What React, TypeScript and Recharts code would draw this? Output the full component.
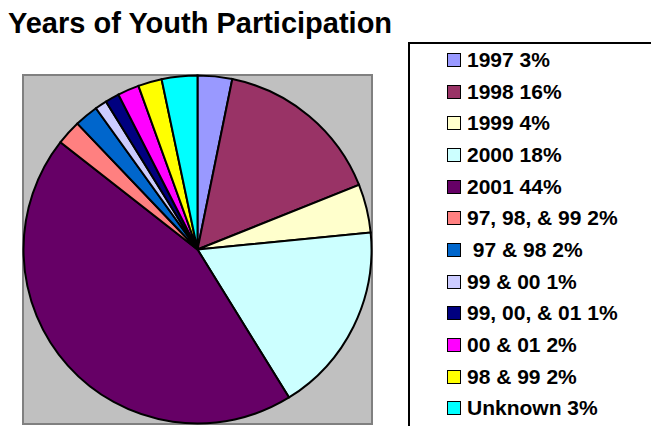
import { PieChart, Pie, Cell, Legend } from "recharts";

const labels = [
  "1997 3%",
  "1998 16%",
  "1999 4%",
  "2000 18%",
  "2001 44%",
  "97, 98, & 99 2%",
  " 97 & 98 2%",
  "99 & 00 1%",
  "99, 00, & 01 1%",
  "00 & 01 2%",
  "98 & 99 2%",
  "Unknown 3%",
];

const shares = [3.2, 15.7, 4.5, 17.7, 44.3, 2.3, 2.2, 1.1, 1.3, 2.0, 2.2, 3.3];

const colors = [
  "#9999FF",
  "#993366",
  "#FFFFCC",
  "#CCFFFF",
  "#660066",
  "#FF8080",
  "#0066CC",
  "#CCCCFF",
  "#000080",
  "#FF00FF",
  "#FFFF00",
  "#00FFFF",
];

const data = labels.map((label, i) => ({ label, value: shares[i] }));

const font = "'Liberation Sans', Arial, sans-serif";

function LegendBox() {
  return (
    <div
      style={{
        width: 260,
        height: 400,
        border: "2px solid #000",
        boxSizing: "border-box",
        background: "#fff",
        paddingTop: 0,
      }}
    >
      {labels.map((label, i) => (
        <div
          key={i}
          style={{
            display: "flex",
            alignItems: "center",
            height: 31.7,
            paddingLeft: 37,
          }}
        >
          <span
            style={{
              width: 14,
              height: 14,
              background: colors[i],
              border: "1.5px solid #000",
              boxSizing: "border-box",
              marginRight: 6,
              flexShrink: 0,
            }}
          />
          <span
            style={{
              fontFamily: font,
              fontWeight: 700,
              fontSize: 21,
              color: "#000",
              whiteSpace: "pre",
            }}
          >
            {label}
          </span>
        </div>
      ))}
    </div>
  );
}

export default function App() {
  return (
    <div
      style={{
        position: "absolute",
        left: 0,
        top: 0,
        width: 651,
        height: 426,
        overflow: "hidden",
        background: "#fff",
      }}
    >
      <div
        style={{
          position: "absolute",
          left: 8,
          top: 9,
          fontFamily: font,
          fontWeight: 700,
          fontSize: 29,
          lineHeight: "29px",
          color: "#000",
          whiteSpace: "nowrap",
        }}
      >
        Years of Youth Participation
      </div>
      <div
        style={{
          position: "absolute",
          left: 22,
          top: 74,
          width: 351,
          height: 351,
          background: "#C0C0C0",
          border: "2px solid #808080",
          boxSizing: "border-box",
        }}
      />
      <div style={{ position: "absolute", left: 0, top: 0 }}>
        <PieChart width={651} height={426} margin={{ top: 0, right: 0, bottom: 0, left: 0 }}>
          <Pie
            data={data}
            dataKey="value"
            nameKey="label"
            cx={197.5}
            cy={249.5}
            outerRadius={174}
            startAngle={90}
            endAngle={-270}
            stroke="#000"
            strokeWidth={2}
            isAnimationActive={false}
            labelLine={false}
          >
            {data.map((d, i) => (
              <Cell key={d.label} fill={colors[i]} />
            ))}
          </Pie>
          <Legend
            content={() => <LegendBox />}
            wrapperStyle={{ position: "absolute", left: 408, top: 42, width: 260 }}
          />
        </PieChart>
      </div>
    </div>
  );
}
